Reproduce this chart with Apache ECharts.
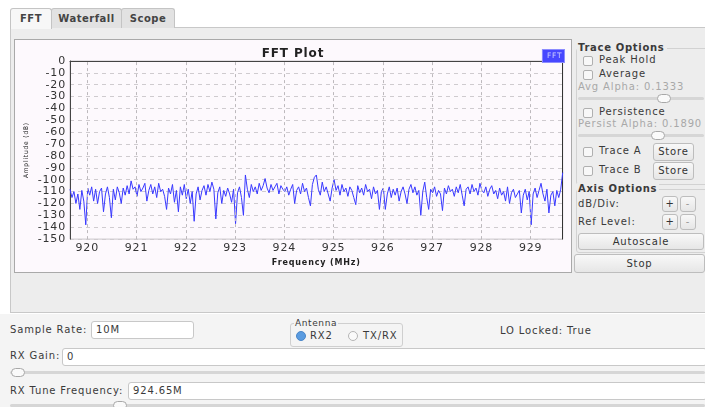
<!DOCTYPE html>
<html>
<head>
<meta charset="utf-8">
<script src="https://cdn.jsdelivr.net/npm/echarts@6/dist/echarts.min.js"></script>
<style>
body{margin:0;width:705px;height:407px;overflow:hidden;background:#fff;font-family:"DejaVu Sans",sans-serif;font-size:10px;letter-spacing:0.85px;color:#3a3a3a;position:relative}
.a{position:absolute;white-space:nowrap}
.tab{position:absolute;top:8px;height:19px;border:1px solid #c4c4c4;border-bottom:none;border-radius:3px 3px 0 0;background:#e2e2e2;font-weight:bold;font-size:10px;line-height:19px;text-align:center;color:#444;letter-spacing:0.5px}
.cb{position:absolute;width:8px;height:8px;border:1px solid #b0b0b0;border-radius:2px;background:#f8f8f8}
.btn{position:absolute;border:1px solid #bdbdbd;border-radius:3px;background:linear-gradient(#f8f8f8,#e6e6e6);text-align:center;font-size:10px;color:#333;box-sizing:border-box}
.grp{position:absolute;border:1px solid #d2d2d2;border-radius:3px}
.gt{position:absolute;background:#ededed;font-weight:bold;padding:0 2px 0 1px;line-height:12px;letter-spacing:0.7px}
.inp{position:absolute;height:18px;border:1px solid #c8c8c8;border-radius:3px;background:#fff;box-sizing:border-box;line-height:16px;padding-left:4px}
.track{position:absolute;height:3px;background:#d6d6d6;border-radius:2px}
.knob{position:absolute;width:14px;height:9px;border:1px solid #a8a8a8;border-radius:6px;background:#fafafa;box-sizing:border-box}
.gray{color:#a8a8a8}
</style>
</head>
<body>
<div class="a" style="left:10px;top:27px;width:695px;height:286px;background:#ededed;border:1px solid #c8c8c8;border-right:none;box-sizing:border-box"></div>
<div class="tab" style="left:10px;width:40px;background:#f7f7f7;height:20px">FFT</div>
<div class="tab" style="left:51px;width:69px">Waterfall</div>
<div class="tab" style="left:121px;width:52px">Scope</div>
<div class="a" style="left:0;top:314px;width:705px;height:93px;background:#f4f4f4"></div>

<div id="vis" class="a" style="left:14px;top:39px;width:556px;height:232px;border:1px solid #a9a9a9;background:#fdf9fd"></div>

<!-- trace options -->
<div class="grp" style="left:576px;top:48px;width:133px;height:135px"></div>
<div class="gt a" style="left:577px;top:42px">Trace Options</div>
<div class="cb" style="left:583px;top:56px"></div><div class="a" style="left:599px;top:54px">Peak Hold</div>
<div class="cb" style="left:583px;top:70px"></div><div class="a" style="left:599px;top:68px">Average</div>
<div class="a gray" style="left:578px;top:81px">Avg Alpha: 0.1333</div>
<div class="track" style="left:578px;top:97px;width:126px"></div><div class="knob" style="left:657px;top:94px"></div>
<div class="cb" style="left:583px;top:108px"></div><div class="a" style="left:599px;top:106px">Persistence</div>
<div class="a gray" style="left:578px;top:118px">Persist Alpha: 0.1890</div>
<div class="track" style="left:578px;top:134px;width:126px"></div><div class="knob" style="left:651px;top:131px"></div>
<div class="cb" style="left:583px;top:147px"></div><div class="a" style="left:599px;top:145px">Trace A</div>
<div class="btn" style="left:653px;top:143px;width:41px;height:18px;line-height:16px">Store</div>
<div class="cb" style="left:583px;top:166px"></div><div class="a" style="left:599px;top:164px">Trace B</div>
<div class="btn" style="left:653px;top:162px;width:41px;height:18px;line-height:16px">Store</div>

<!-- axis options -->
<div class="grp" style="left:576px;top:189px;width:133px;height:62px"></div>
<div class="gt a" style="left:577px;top:183px">Axis Options</div>
<div class="a" style="left:578px;top:198px">dB/Div:</div>
<div class="btn" style="left:662px;top:196px;width:16px;height:16px;line-height:14px">+</div>
<div class="btn" style="left:680px;top:196px;width:16px;height:16px;line-height:14px;color:#999">-</div>
<div class="a" style="left:578px;top:216px">Ref Level:</div>
<div class="btn" style="left:662px;top:214px;width:16px;height:16px;line-height:14px">+</div>
<div class="btn" style="left:680px;top:214px;width:16px;height:16px;line-height:14px;color:#999">-</div>
<div class="btn" style="left:578px;top:233px;width:126px;height:17px;line-height:15px">Autoscale</div>
<div class="btn" style="left:574px;top:254px;width:131px;height:19px;line-height:17px">Stop</div>

<!-- bottom controls -->
<div class="a" style="left:10px;top:324px">Sample Rate:</div>
<div class="inp" style="left:91px;top:321px;width:103px">10M</div>
<div class="grp" style="left:290px;top:323px;width:111px;height:22px;border-color:#cfcfcf"></div>
<div class="a" style="left:294px;top:318px;font-size:9px;background:#f4f4f4;padding:0 1px;letter-spacing:0.6px">Antenna</div>
<div class="a" style="left:296px;top:331px;width:8px;height:8px;border-radius:50%;background:#5a9be0;border:1px solid #4a86c8"></div>
<div class="a" style="left:310px;top:330px">RX2</div>
<div class="a" style="left:348px;top:331px;width:8px;height:8px;border-radius:50%;background:#fafafa;border:1px solid #b5b5b5"></div>
<div class="a" style="left:363px;top:330px">TX/RX</div>
<div class="a" style="left:500px;top:325px">LO Locked: True</div>
<div class="a" style="left:10px;top:350px">RX Gain:</div>
<div class="inp" style="left:62px;top:348px;width:645px">0</div>
<div class="track" style="left:10px;top:371px;width:695px"></div><div class="knob" style="left:11px;top:368px"></div>
<div class="a" style="left:10px;top:385px">RX Tune Frequency:</div>
<div class="inp" style="left:128px;top:382px;width:579px">924.65M</div>
<div class="track" style="left:10px;top:404px;width:695px"></div><div class="knob" style="left:113px;top:401px"></div>

<script>
// FFT bins: 919.65 MHz .. 929.65 MHz (tune 924.65M, 10M span)
const freqStart = 919.65;
const freqStep = 0.04;
const ampDb = [
  -108, -115, -110, -120, -112, -125, -109, -118, -138, -107,
  -113, -106, -118, -108, -120, -110, -107, -127, -112, -106,
  -115, -132, -108, -117, -106, -111, -120, -107, -113, -105,
  -112, -101, -108, -106, -114, -104, -110, -107, -103, -118,
  -109, -104, -112, -106, -115, -103, -110, -108, -114, -125,
  -107, -112, -104, -119, -109, -127, -106, -113, -104, -116,
  -108, -120, -110, -135, -112, -106, -117, -109, -105, -113,
  -104, -110, -102, -108, -133, -111, -106, -120, -109, -114,
  -107, -112, -119, -108, -137, -111, -106, -115, -130, -96,
  -108, -115, -104, -110, -106, -112, -103, -109, -105, -99,
  -107, -111, -104, -109, -106, -103, -112, -105, -108, -110,
  -106, -113, -108, -104, -120, -109, -106, -112, -103, -110,
  -107, -115, -122, -104, -98, -96, -108, -113, -102, -110,
  -106, -112, -118, -107, -100, -109, -105, -113, -104, -110,
  -107, -114, -106, -109, -115, -121, -105, -111, -107, -113,
  -104, -110, -108, -116, -106, -112, -109, -125, -110, -107,
  -125, -112, -106, -115, -108, -113, -107, -118, -110, -106,
  -112, -120, -108, -104, -111, -106, -113, -109, -130, -110,
  -102, -115, -125, -108, -111, -106, -114, -109, -112, -126,
  -107, -112, -105, -110, -108, -114, -106, -111, -104, -113,
  -122, -108, -106, -112, -104, -110, -107, -113, -103, -109,
  -111, -106, -114, -108, -105, -112, -109, -116, -107, -113,
  -110, -118, -106, -120, -111, -108, -115, -112, -109, -128,
  -113, -108, -117, -110, -138, -112, -107, -115, -109, -103,
  -112, -118, -108, -128, -113, -110, -122, -109, -115, -108,
  -94
];
const freqTicks = [920, 921, 922, 923, 924, 925, 926, 927, 928, 929];

let chart = null;

function createPlot() {
  const data = ampDb.map((v, i) => [+(freqStart + i * freqStep).toFixed(2), v]);
  const options = {
    animation: false,
    title: {
      text: 'FFT Plot',
      left: 'center',
      top: 3,
      textStyle: {fontFamily: 'DejaVu Sans', fontSize: 12, fontWeight: 'bold', color: '#222'}
    },
    legend: {
      right: 1,
      top: 4,
      icon: 'none',
      itemWidth: 0,
      itemGap: 0,
      data: ['FFT'],
      textStyle: {
        fontFamily: 'DejaVu Sans', fontSize: 7.5, color: '#cdd0ff',
        backgroundColor: '#4747ff', borderColor: '#8c8cff', borderWidth: 1,
        padding: [2, 4]
      }
    },
    grid: {
      left: 54.5, right: 8.3, top: 21, bottom: 26.3,
      show: true, borderColor: '#c9c5c9', borderWidth: 1
    },
    xAxis: {
      type: 'value',
      min: freqStart,
      max: 929.65,
      name: 'Frequency (MHz)',
      nameLocation: 'middle',
      nameGap: 16,
      nameTextStyle: {fontFamily: 'DejaVu Sans', fontSize: 8, fontWeight: 'bold', color: '#222'},
      axisLine: {lineStyle: {color: '#444'}},
      axisTick: {show: false},
      splitLine: {show: false},
      axisLabel: {
        customValues: freqTicks,
        margin: 4,
        fontFamily: 'DejaVu Sans', fontSize: 11, color: '#333'
      }
    },
    yAxis: [{
      type: 'value',
      min: -150,
      max: 0,
      interval: 10,
      name: 'Amplitude (dB)',
      nameLocation: 'middle',
      nameGap: 40,
      nameTextStyle: {fontFamily: 'DejaVu Sans Condensed', fontSize: 6.5, color: '#222'},
      axisLine: {show: true, lineStyle: {color: '#444'}},
      axisTick: {show: false},
      axisLabel: {margin: 4, fontFamily: 'DejaVu Sans', fontSize: 11, color: '#333'},
      splitLine: {lineStyle: {color: '#cfcbcf', type: [4, 4]}}
    }, {
      type: 'value',
      min: -150,
      max: 0,
      position: 'right',
      axisLine: {show: true, lineStyle: {color: '#333'}},
      axisTick: {show: false},
      axisLabel: {show: false},
      splitLine: {show: false}
    }],
    series: [{
      name: 'FFT',
      type: 'line',
      data: data,
      symbol: 'none',
      color: '#3838ff',
      lineStyle: {width: 1, color: '#3838ff'},
      markLine: {
        silent: true,
        symbol: 'none',
        label: {show: false},
        lineStyle: {color: '#bdb9bd', type: [3, 3], width: 1},
        data: freqTicks.map(f => ({xAxis: f}))
      }
    }]
  };
  chart.setOption(options);
}

chart = echarts.init(document.getElementById('vis'), null, {renderer: 'canvas'});
createPlot();
</script>
</body>
</html>
